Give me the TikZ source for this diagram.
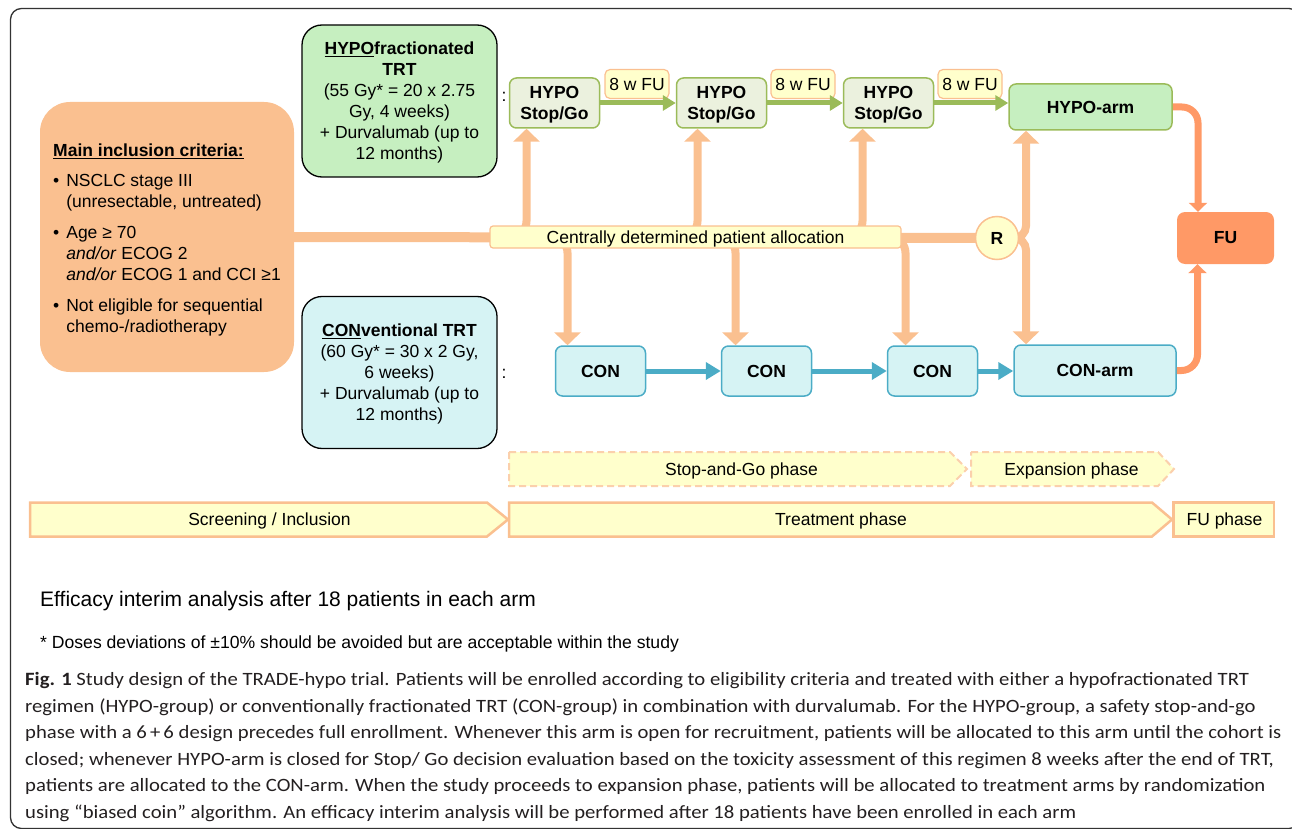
\documentclass[tikz,border=0pt]{standalone}
\usepackage{fontspec}
\setmainfont{Liberation Sans}
\newfontfamily\capfont[FakeStretch=1.10]{Carlito}
\usetikzlibrary{arrows.meta,positioning}

\definecolor{inclorange}{HTML}{FAC090}
\definecolor{hypofill}{HTML}{C6EFC0}
\definecolor{sgfill}{HTML}{EBF1DE}
\definecolor{hypogreen}{HTML}{9BBB59}
\definecolor{conlight}{HTML}{D6F3F4}
\definecolor{conblue}{HTML}{4BACC6}
\definecolor{paleyellow}{HTML}{FFFFCC}
\definecolor{fuorange}{HTML}{FF9966}
\definecolor{captext}{HTML}{231F20}

\newcommand{\dfont}{\fontsize{17.5}{21}\selectfont}
\newcommand{\undl}[1]{\setbox0=\hbox{#1}\leavevmode\rlap{\rule[-2.6pt]{\wd0}{1.2pt}}\box0}

\pgfdeclarelayer{bg}
\pgfsetlayers{bg,main}

\tikzset{
  frame/.style={draw=black!80, line width=1.3pt, rounded corners=11pt},
  inclbox/.style={fill=inclorange, rounded corners=30pt, minimum width=254pt,
    minimum height=270pt, inner sep=0pt, font=\dfont},
  trtbox/.style={draw=black, line width=1.3pt, rounded corners=20pt, minimum width=195pt,
    minimum height=152pt, align=center, text depth=0pt, font=\dfont},
  sgbox/.style={fill=sgfill, draw=hypogreen, line width=1.5pt, rounded corners=7pt,
    minimum width=90pt, minimum height=50pt, align=center, text depth=0pt,
    font=\dfont\bfseries},
  conbox/.style={fill=conlight, draw=conblue, line width=1.5pt, rounded corners=7pt,
    minimum width=90pt, minimum height=50pt, font=\dfont\bfseries},
  armbox/.style={line width=1.5pt, rounded corners=7pt, font=\dfont\bfseries},
  fulabel/.style={fill=paleyellow, draw=inclorange, line width=1.2pt, rounded corners=5pt,
    minimum width=64pt, minimum height=29pt, inner sep=0pt, font=\dfont},
  allocbox/.style={fill=paleyellow, draw=inclorange, line width=1.2pt, rounded corners=3pt,
    minimum width=411pt, minimum height=22pt, inner sep=0pt, text depth=0pt, font=\dfont},
  rcircle/.style={circle, fill=paleyellow, draw=inclorange, line width=1.5pt,
    minimum size=43pt, inner sep=0pt, font=\dfont\bfseries},
  fubox/.style={fill=fuorange, rounded corners=8pt, minimum width=97pt, minimum height=52pt,
    font=\dfont\bfseries},
  mainline/.style={draw=inclorange, line width=10pt},
  branch/.style={draw=inclorange, line width=8pt, rounded corners=16pt,
    -{Triangle[width=26pt,length=13pt]}},
  sgarrow/.style={draw=hypogreen, line width=5pt, -{Triangle[width=15pt,length=13pt]}},
  conarrow/.style={draw=conblue, line width=5pt, -{Triangle[width=17pt,length=15pt]}},
  fuarrow/.style={draw=fuorange, line width=7pt, rounded corners=16pt,
    -{Triangle[width=18pt,length=9pt]}},
  phasebar/.style={fill=paleyellow, draw=inclorange, line width=2.5pt},
  phasedash/.style={fill=paleyellow, draw=inclorange!75, line width=2pt,
    dash pattern=on 7pt off 4pt},
  phasetext/.style={text depth=0pt, font=\dfont}
}

\begin{document}
\begin{tikzpicture}[x=1pt,y=-1pt]
  \useasboundingbox (0,0) rectangle (1292,829);
  \clip (0,0) rectangle (1292,829);
  % outer frame
  \draw[frame] (10.5,8.5) rectangle (1300,828.5);

  % inclusion criteria and the two regimens
  \node[inclbox] (incl) at (167,237) {\raisebox{-3pt}[\height][\depth]{%
    \begin{tabular}{@{}l@{\hspace{7pt}}l@{}}
      \multicolumn{2}{@{}l@{}}{\textbf{\undl{Main inclusion criteria:}}}\\[9pt]
      \textbullet & NSCLC stage III\\
                  & (unresectable, untreated)\\[10pt]
      \textbullet & Age ≥ 70\\
                  & \textit{and/or} ECOG 2\\
                  & \textit{and/or} ECOG 1 and CCI ≥1\\[10pt]
      \textbullet & Not eligible for sequential\\
                  & chemo-/radiotherapy
    \end{tabular}}};
  \node[trtbox, fill=hypofill] (hypotrt) at (399.5,101)
    {\textbf{\undl{HYPO}fractionated}\\\textbf{TRT}\\(55 Gy* = 20 x 2.75\\Gy, 4 weeks)\\+ Durvalumab (up to\\12 months)};
  \node[trtbox, fill=conlight] (contrt) at (399.5,372.5)
    {\textbf{\undl{CON}ventional TRT}\\(60 Gy* = 30 x 2 Gy,\\6 weeks)\\+ Durvalumab (up to\\12 months)};
  \node[font=\dfont] (colh) at (504,97) {:};
  \node[font=\dfont] (colc) at (504,374) {:};

  % HYPO row
  \node[sgbox] (sg1) at (554.5,103) {HYPO\\Stop/Go};
  \node[sgbox, right=75.5pt of sg1] (sg2) {HYPO\\Stop/Go};
  \node[sgbox, right=75.5pt of sg2] (sg3) {HYPO\\Stop/Go};
  \node[armbox, fill=hypofill, draw=hypogreen, minimum width=163pt, minimum height=46pt]
    (hypoarm) at (1090.5,107) {HYPO-arm};
  \node[fulabel] (fu1) at (637,84) {8 w FU};
  \node[fulabel] (fu2) at (803,84) {8 w FU};
  \node[fulabel] (fu3) at (970,84) {8 w FU};

  % CON row
  \node[conbox] (con1) at (600.5,371) {CON};
  \node[conbox, right=74.5pt of con1] (con2) {CON};
  \node[conbox, right=74.5pt of con2] (con3) {CON};
  \node[armbox, fill=conlight, draw=conblue, minimum width=162pt, minimum height=51pt]
    (conarm) at (1095,370.5) {CON-arm};

  % allocation, randomisation and follow-up
  \node[allocbox] (alloc) at (695.5,237) {Centrally determined patient allocation};
  \node[rcircle] (R) at (997,238) {R};
  \node[fubox] (fu) at (1225.5,238) {FU};

  \begin{pgfonlayer}{bg}
    \draw[mainline] (incl.east) -- (R.center);
    \draw[branch] (alloc.west) -| ([xshift=-28pt]sg1.south);
    \draw[branch] (alloc.west) -| ([xshift=-24pt]sg2.south);
    \draw[branch] (alloc.west) -| ([xshift=-26pt]sg3.south);
    \draw[branch] (alloc.west) -| ([xshift=-33pt]con1.north);
    \draw[branch] (alloc.west) -| ([xshift=-31pt]con2.north);
    \draw[branch] (alloc.west) -| ([xshift=-27pt]con3.north);
    \draw[branch, rounded corners=12pt] (R.center) -| ([xshift=-64.5pt]hypoarm.south);
    \draw[branch, rounded corners=12pt] (R.center) -| ([xshift=-69pt]conarm.north);
  \end{pgfonlayer}

  \draw[sgarrow] (sg1.east) -- (sg2.west);
  \draw[sgarrow] (sg2.east) -- (sg3.west);
  \draw[sgarrow] (sg3.east) -- (sg3.east -| hypoarm.west);
  \draw[conarrow] (con1.east) -- (con2.west);
  \draw[conarrow] (con2.east) -- (con3.west);
  \draw[conarrow] (con3.east) -- (con3.east -| conarm.west);
  \draw[fuarrow] (hypoarm.east) -| ([xshift=-27.5pt]fu.north);
  \draw[fuarrow] (conarm.east) -| ([xshift=-28pt]fu.south);

  % phases
  \draw[phasedash] (509,452) -- (950,452) -- (967,469) -- (950,486) -- (509,486) -- cycle;
  \draw[phasedash] (971,452) -- (1158,452) -- (1174,469) -- (1158,486) -- (971,486) -- cycle;
  \node[phasetext] (stopgo) at (741.5,469) {Stop-and-Go phase};
  \node[phasetext] (expan) at (1071.5,469) {Expansion phase};
  \draw[phasebar] (30,502.5) -- (487,502.5) -- (508,519.5) -- (487,536.5) -- (30,536.5) -- cycle;
  \draw[phasebar] (509,502.5) -- (1152,502.5) -- (1172,519.5) -- (1152,536.5) -- (509,536.5) -- cycle;
  \draw[phasebar] (1173.5,502.5) rectangle (1274,536.5);
  \node[phasetext] (screen) at (269.5,519.5) {Screening / Inclusion};
  \node[phasetext] (treat) at (841,519.5) {Treatment phase};
  \node[phasetext] (fuphase) at (1224.5,519.5) {FU phase};

  % notes and caption
  \node[anchor=base west, inner sep=0pt, font=\fontsize{21}{25}\selectfont] (interim) at (40,606)
    {Efficacy interim analysis after 18 patients in each arm};
  \node[anchor=base west, inner sep=0pt, font=\fontsize{17.6}{20}\selectfont] (dose) at (40,648)
    {* Doses deviations of ±10\% should be avoided but are acceptable within the study};
  \foreach \i/\ln in {
    0/{\textbf{Fig. 1} Study design of the TRADE-hypo trial. Patients will be enrolled according to eligibility criteria and treated with either a hypofractionated TRT},
    1/{regimen (HYPO-group) or conventionally fractionated TRT (CON-group) in combination with durvalumab. For the HYPO-group, a safety stop-and-go},
    2/{phase with a 6\,+\,6 design precedes full enrollment. Whenever this arm is open for recruitment, patients will be allocated to this arm until the cohort is},
    3/{closed; whenever HYPO-arm is closed for Stop/ Go decision evaluation based on the toxicity assessment of this regimen 8 weeks after the end of TRT,},
    4/{patients are allocated to the CON-arm. When the study proceeds to expansion phase, patients will be allocated to treatment arms by randomization},
    5/{using “biased coin” algorithm. An efficacy interim analysis will be performed after 18 patients have been enrolled in each arm}}
    \node[anchor=base west, inner sep=0pt, text=captext, font=\capfont\fontsize{18.8}{22}\selectfont]
      (cap\i) at (25,685.5+26.6*\i) {\ln};
\end{tikzpicture}
\end{document}
